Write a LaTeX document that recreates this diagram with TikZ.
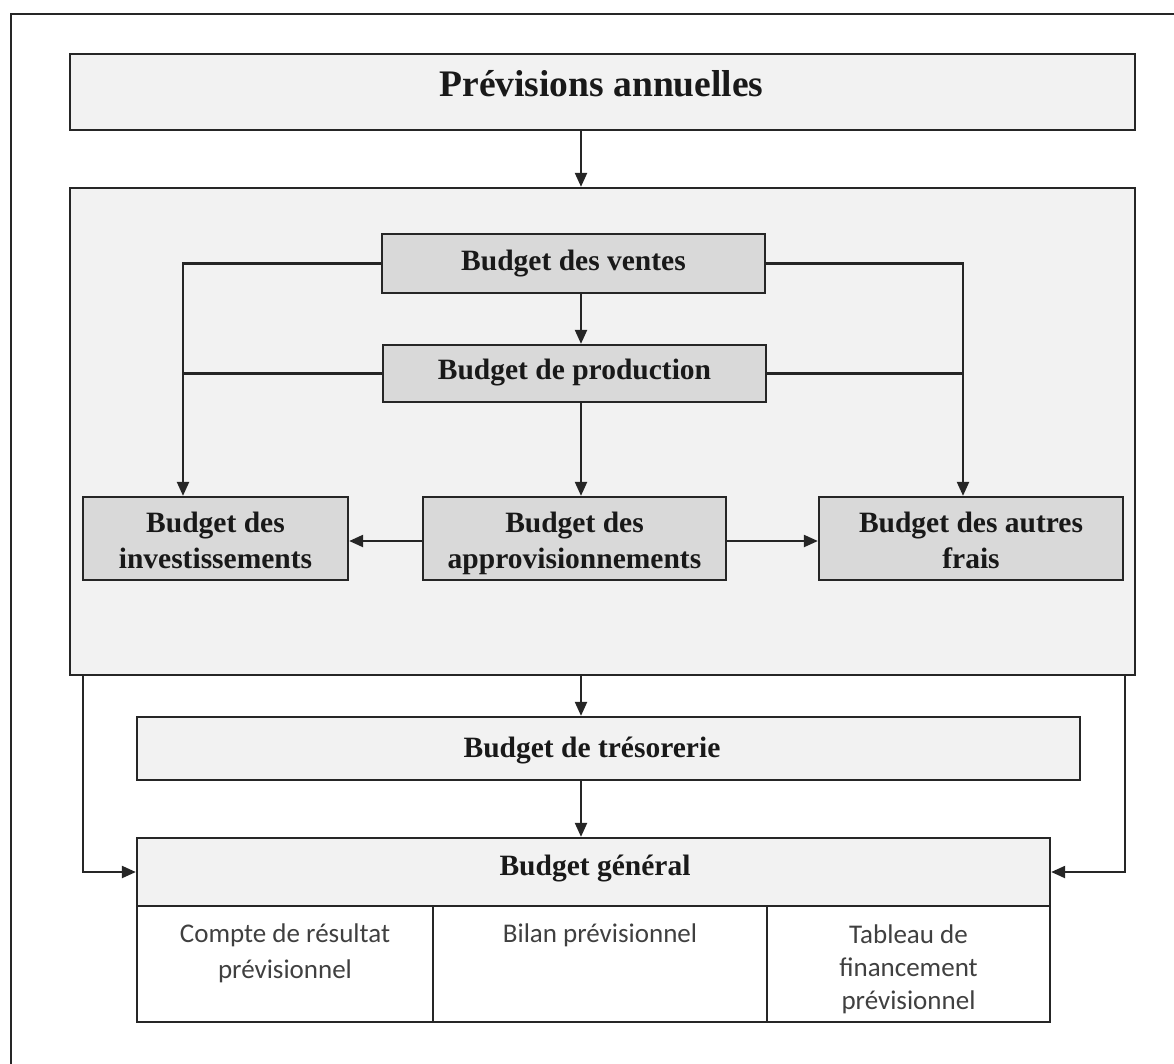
\documentclass[tikz,border=0pt]{standalone}
\usepackage{fontspec}
\setmainfont{Liberation Serif}
\newfontfamily\calib{Carlito}
\usetikzlibrary{arrows.meta}

\begin{document}
\begin{tikzpicture}[x=1pt,y=-1pt,
  rule/.style={draw=black!85, line width=2.3pt},
  pale/.style={rule, fill=black!5, rectangle, inner sep=0pt},
  shaded/.style={rule, fill=black!15, rectangle, inner sep=0pt},
  plain/.style={rule, fill=white, rectangle, inner sep=0pt},
  caption/.style={font=\fontsize{29.5}{36}\selectfont\bfseries, text=black!90,
    align=center, inner sep=0pt, anchor=base},
  bigcaption/.style={caption, font=\fontsize{37.5}{44}\selectfont\bfseries},
  note/.style={font=\calib\fontsize{27}{36}\selectfont, text=black!75,
    align=center, inner sep=0pt, anchor=base},
  link/.style={draw=black!85, line width=2.2pt},
  arr/.style={link, -{Triangle[length=14pt,width=12pt]}},
]
\useasboundingbox (0,0) rectangle (1174,1063);

% page frame (only its top and left sides fall inside the page)
\draw[rule] (1180,14) -- (11,14) -- (11,1070);

% guide lines for the connectors
\coordinate (spine) at (581,0);
\coordinate (leftrail) at (183,0);
\coordinate (rightrail) at (963,0);
\coordinate (midrow) at (0,541);
\coordinate (bypassL) at (83,0);
\coordinate (bypassR) at (1125,0);

% boxes
\node[pale, minimum width=1065, minimum height=76] (prev) at (602.5,92) {};
\node[pale, minimum width=1065, minimum height=487] (panel) at (602.5,431.5) {};
\node[shaded, minimum width=383, minimum height=59] (ventes) at (573.5,263.5) {};
\node[shaded, minimum width=383, minimum height=57] (prod) at (574.5,373.5) {};
\node[shaded, minimum width=265, minimum height=83] (invest) at (215.5,538.5) {};
\node[shaded, minimum width=303, minimum height=83] (appro) at (574.5,538.5) {};
\node[shaded, minimum width=304, minimum height=83] (autres) at (971,538.5) {};
\node[pale, minimum width=943, minimum height=63] (treso) at (608.5,748.5) {};
\node[pale, minimum width=913, minimum height=68] (gen) at (593.5,872) {};
\node[plain, minimum width=296, minimum height=116] (cellA) at (285,964) {};
\node[plain, minimum width=334, minimum height=116] (cellB) at (600,964) {};
\node[plain, minimum width=283, minimum height=116] (cellC) at (908.5,964) {};

% texts (a multi-line text sits on the baseline of its last line)
\node[bigcaption] (prevT) at (601.5,96) {Prévisions annuelles};
\node[caption] (ventesT) at (573.5,270) {Budget des ventes};
\node[caption] (prodT) at (574.5,379) {Budget de production};
\node[caption] (investT) at (215.5,568) {Budget des\\investissements};
\node[caption] (approT) at (574.5,568) {Budget des\\approvisionnements};
\node[caption] (autresT) at (971,568) {Budget des autres\\frais};
\node[caption] (tresoT) at (592,757) {Budget de trésorerie};
\node[caption] (genT) at (595,875) {Budget général};
\node[note] (cellAT) at (285,978) {Compte de résultat\\prévisionnel};
\node[note] (cellBT) at (600,942) {Bilan prévisionnel};
\node[note, font=\calib\fontsize{27}{33}\selectfont] (cellCT) at (908.5,1009)
  {Tableau de\\financement\\prévisionnel};

% connectors
\draw[arr] (prev.south -| spine) -- (panel.north -| spine);
\draw[arr] (ventes.south -| spine) -- (prod.north -| spine);
\draw[arr] (prod.south -| spine) -- (appro.north -| spine);
\draw[arr] (ventes.west) -| (invest.north -| leftrail);
\draw[link] (prod.west) -- (prod.west -| leftrail);
\draw[arr] (ventes.east) -| (autres.north -| rightrail);
\draw[link] (prod.east) -- (prod.east -| rightrail);
\draw[arr] (appro.west |- midrow) -- (invest.east |- midrow);
\draw[arr] (appro.east |- midrow) -- (autres.west |- midrow);
\draw[arr] (panel.south -| spine) -- (treso.north -| spine);
\draw[arr] (treso.south -| spine) -- (gen.north -| spine);
\draw[arr] (panel.south -| bypassL) |- (gen.west);
\draw[arr] (panel.south -| bypassR) |- (gen.east);
\end{tikzpicture}
\end{document}
